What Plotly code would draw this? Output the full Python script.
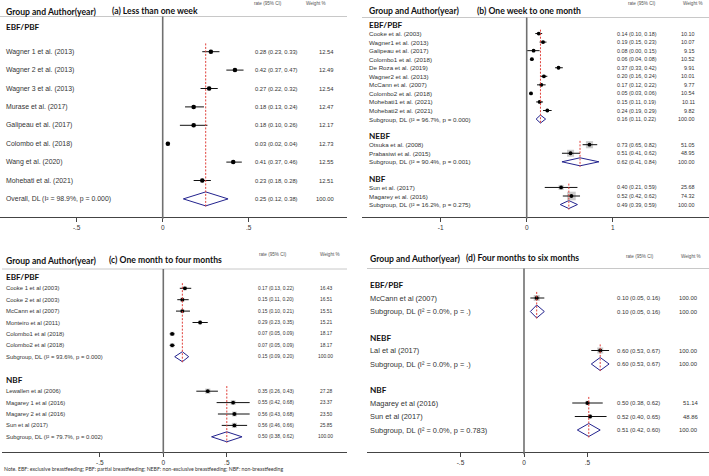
import plotly.graph_objects as go

W, H = 709, 476

# ---------------- DATA ----------------
# Panel (a)
a_title = "(a) Less than one week"
a_study = ["Wagner 1 et al. (2013)", "Wagner 2 et al. (2013)", "Wagner 3 et al. (2013)",
           "Murase et al. (2017)", "Galipeau et al. (2017)", "Colombo et al. (2018)",
           "Wang et al. (2020)", "Mohebati et al. (2021)"]
a_group = ["EBF/PBF"] * 8
a_est = [0.28, 0.42, 0.27, 0.18, 0.18, 0.03, 0.41, 0.23]
a_lo = [0.23, 0.37, 0.22, 0.13, 0.10, 0.02, 0.37, 0.18]
a_hi = [0.33, 0.47, 0.32, 0.24, 0.26, 0.04, 0.46, 0.28]
a_wt = [12.54, 12.49, 12.54, 12.47, 12.17, 12.73, 12.55, 12.51]
a_groups = ["EBF/PBF"]
a_pool_est = [0.25]
a_pool_lo = [0.12]
a_pool_hi = [0.38]
a_i2 = ["98.9"]
a_p = ["0.000"]
a_pool_name = "Overall"

# Panel (b)
b_title = "(b) One week to one month"
b_study = ["Cooke et al. (2003)", "Wagner1 et al. (2013)", "Galipeau et al. (2017)",
           "Colombo1 et al. (2018)", "De Roza et al. (2019)", "Wagner2 et al. (2013)",
           "McCann et al. (2007)", "Colombo2 et al. (2018)", "Mohebati1 et al. (2021)",
           "Mohebati2 et al. (2021)",
           "Otsuka et al. (2008)", "Prabasiwi et al. (2015)",
           "Sun et al. (2017)", "Magarey et al. (2016)"]
b_group = ["EBF/PBF"] * 10 + ["NEBF"] * 2 + ["NBF"] * 2
b_est = [0.14, 0.19, 0.08, 0.06, 0.37, 0.20, 0.17, 0.05, 0.15, 0.24, 0.73, 0.51, 0.40, 0.52]
b_lo = [0.10, 0.15, 0.00, 0.04, 0.33, 0.16, 0.12, 0.03, 0.11, 0.19, 0.65, 0.41, 0.21, 0.42]
b_hi = [0.18, 0.23, 0.15, 0.08, 0.42, 0.24, 0.22, 0.06, 0.19, 0.29, 0.82, 0.62, 0.59, 0.62]
b_wt = [10.10, 10.07, 9.15, 10.52, 9.91, 10.01, 9.77, 10.54, 10.11, 9.82, 51.05, 48.95, 25.68, 74.32]
b_groups = ["EBF/PBF", "NEBF", "NBF"]
b_pool_est = [0.16, 0.62, 0.49]
b_pool_lo = [0.11, 0.41, 0.39]
b_pool_hi = [0.22, 0.84, 0.59]
b_i2 = ["96.7", "90.4", "16.2"]
b_p = ["0.000", "0.001", "0.275"]
b_pool_name = "Subgroup"

# Panel (c)
c_title = "(c) One month to four months"
c_study = ["Cooke 1 et al (2003)", "Cooke 2 et al (2003)", "McCann et al (2007)",
           "Monteiro et al (2011)", "Colombo1 et al (2018)", "Colombo2 et al (2018)",
           "Lewallen et al (2006)", "Magarey 1 et al (2016)", "Magarey 2 et al (2016)",
           "Sun et al (2017)"]
c_group = ["EBF/PBF"] * 6 + ["NBF"] * 4
c_est = [0.17, 0.15, 0.15, 0.29, 0.07, 0.07, 0.35, 0.55, 0.56, 0.56]
c_lo = [0.13, 0.11, 0.10, 0.23, 0.05, 0.05, 0.26, 0.42, 0.43, 0.46]
c_hi = [0.22, 0.20, 0.21, 0.35, 0.09, 0.09, 0.43, 0.68, 0.68, 0.66]
c_wt = [16.43, 16.51, 15.51, 15.21, 18.17, 18.17, 27.28, 23.37, 23.50, 25.85]
c_groups = ["EBF/PBF", "NBF"]
c_pool_est = [0.15, 0.50]
c_pool_lo = [0.09, 0.38]
c_pool_hi = [0.20, 0.62]
c_i2 = ["93.6", "79.7"]
c_p = ["0.000", "0.002"]
c_pool_name = "Subgroup"

# Panel (d)
d_title = "(d) Four months to six months"
d_study = ["McCann et al (2007)", "Lal et al (2017)", "Magarey et al (2016)", "Sun et al (2017)"]
d_group = ["EBF/PBF", "NEBF", "NBF", "NBF"]
d_est = [0.10, 0.60, 0.50, 0.52]
d_lo = [0.05, 0.53, 0.38, 0.40]
d_hi = [0.16, 0.67, 0.62, 0.65]
d_wt = [100.00, 100.00, 51.14, 48.86]
d_groups = ["EBF/PBF", "NEBF", "NBF"]
d_pool_est = [0.10, 0.60, 0.51]
d_pool_lo = [0.05, 0.53, 0.42]
d_pool_hi = [0.16, 0.67, 0.60]
d_i2 = ["0.0", "0.0", "0.0"]
d_p = [".", ".", "0.783"]
d_pool_name = "Subgroup"

half_ticks = [-0.5, 0, 0.5]
half_ticklabels = ["-.5", "0", ".5"]
unit_ticks = [-1, 0, 1]
unit_ticklabels = ["-1", "0", "1"]

note_text = ("Note. EBF: exclusive breastfeeding; PBF: partial breastfeeding; "
             "NEBF: non-exclusive breastfeeding; NBF: non-breastfeeding")

# ---------------- STYLE / LAYOUT ----------------
SANS = "Liberation Sans, Arial, sans-serif"
BOLD = "Lato, Open Sans, sans-serif"
TXT = "#333333"
NAVY = "#23238e"
RED = "#e0403a"
GREY_BOX = "#b5b5b5"

panels = [
    dict(title=a_title, study=a_study, group=a_group, est=a_est, lo=a_lo, hi=a_hi, wt=a_wt,
         groups=a_groups, pest=a_pool_est, plo=a_pool_lo, phi=a_pool_hi, i2=a_i2, p=a_p,
         pname=a_pool_name, ticks=half_ticks, ticklabels=half_ticklabels,
         x0=0, x1=347, zero=162.7, scale=172, axis_y=217, sep_y=16.5,
         top_y=26.7, head_gap=25, step=18.4, group_gap=36.8, dh=7,
         label_x=4, rate_x=253, wt_x=336, head_y=11.5, title_x=110, colhead_y=3.5,
         ratehead_x=268, wthead_x=316, fs=6.9, rfs=5.8, box_k=1.1, dot=4.5),
    dict(title=b_title, study=b_study, group=b_group, est=b_est, lo=b_lo, hi=b_hi, wt=b_wt,
         groups=b_groups, pest=b_pool_est, plo=b_pool_lo, phi=b_pool_hi, i2=b_i2, p=b_p,
         pname=b_pool_name, ticks=unit_ticks, ticklabels=unit_ticklabels,
         x0=362, x1=709, zero=526.7, scale=86, axis_y=216.7, sep_y=17.5,
         top_y=25, head_gap=8.55, step=8.55, group_gap=17.1, dh=4,
         label_x=367, rate_x=615, wt_x=697, head_y=11, title_x=475, colhead_y=3.5,
         ratehead_x=642, wthead_x=693, fs=6.2, rfs=5.4, box_k=1.0, dot=3.8),
    dict(title=c_title, study=c_study, group=c_group, est=c_est, lo=c_lo, hi=c_hi, wt=c_wt,
         groups=c_groups, pest=c_pool_est, plo=c_pool_lo, phi=c_pool_hi, i2=c_i2, p=c_p,
         pname=c_pool_name, ticks=half_ticks, ticklabels=half_ticklabels,
         x0=2, x1=347, zero=163.3, scale=127, axis_y=451.7, sep_y=269,
         top_y=277.3, head_gap=11, step=11.4, group_gap=23.5, dh=5,
         label_x=4, rate_x=256, wt_x=335, head_y=260.5, title_x=107, colhead_y=254,
         ratehead_x=273, wthead_x=330, fs=5.9, rfs=4.9, box_k=1.0, dot=3.8),
    dict(title=d_title, study=d_study, group=d_group, est=d_est, lo=d_lo, hi=d_hi, wt=d_wt,
         groups=d_groups, pest=d_pool_est, plo=d_pool_lo, phi=d_pool_hi, i2=d_i2, p=d_p,
         pname=d_pool_name, ticks=half_ticks, ticklabels=half_ticklabels,
         x0=367, x1=709, zero=524, scale=127, axis_y=452.3, sep_y=268.5,
         top_y=285, head_gap=13, step=13.5, group_gap=26, dh=6.5,
         label_x=368, rate_x=615, wt_x=700, head_y=258.5, title_x=464, colhead_y=256,
         ratehead_x=640, wthead_x=691, fs=7.4, rfs=5.9, box_k=0.6, dot=4),
]

fig = go.Figure()
annotations = []
shapes = []
layout_axes = {}


def px(x):
    return x / W


def add_text(x, y, text, size, family=SANS, color=TXT, anchor="left"):
    annotations.append(dict(xref="paper", yref="y", x=px(x), y=y, text=text,
                            showarrow=False, xanchor=anchor, yanchor="middle",
                            font=dict(family=family, size=size, color=color)))


for k, P in enumerate(panels, start=1):
    xa = "x" if k == 1 else f"x{k}"
    xkey = "xaxis" if k == 1 else f"xaxis{k}"
    lo_r = (P["x0"] - P["zero"]) / P["scale"]
    hi_r = (P["x1"] - P["zero"]) / P["scale"]
    layout_axes[xkey] = dict(
        domain=[px(P["x0"]), px(P["x1"])], range=[lo_r, hi_r], anchor="free",
        position=1 - P["axis_y"] / H, showline=True, linecolor="#444", linewidth=1,
        showgrid=False, zeroline=False, tickmode="array", tickvals=P["ticks"],
        ticktext=P["ticklabels"], ticks="outside", ticklen=4, tickcolor="#444",
        tickfont=dict(family=SANS, size=6.5, color=TXT), fixedrange=True,
    )

    # compute row positions from the structure
    study_y = [None] * len(P["study"])
    head_pos, sub_pos, first_pos = [], [], []
    y = P["top_y"]
    for gi, g in enumerate(P["groups"]):
        head_pos.append(y)
        y += P["head_gap"]
        first_pos.append(y)
        for si, sg in enumerate(P["group"]):
            if sg == g:
                study_y[si] = y
                y += P["step"]
        sub_pos.append(y)
        y += P["group_gap"]

    # header texts
    add_text(P["label_x"], P["head_y"], "<b>Group and Author(year)</b>", 8.6, BOLD, "#111")
    add_text(P["title_x"], P["head_y"] - 0.5, "<b>" + P["title"] + "</b>", 8.6, BOLD, "#111")
    add_text(P["ratehead_x"], P["colhead_y"], "rate (95% CI)", 4.6, SANS, "#555", "center")
    add_text(P["wthead_x"], P["colhead_y"], "Weight %", 4.6, SANS, "#555", "center")

    # separator line and zero line
    shapes.append(dict(type="line", xref="paper", yref="y", x0=px(P["x0"]), x1=px(P["x1"]),
                       y0=P["sep_y"], y1=P["sep_y"], line=dict(color="#c8c8c8", width=1)))
    shapes.append(dict(type="line", xref=xa, yref="y", x0=0, x1=0,
                       y0=P["sep_y"], y1=P["axis_y"] + 2, line=dict(color="#707070", width=1.6)))

    # groups: header, dashed pooled line, diamond, subgroup label
    for gi, g in enumerate(P["groups"]):
        add_text(P["label_x"], head_pos[gi], "<b>" + g + "</b>", 8.2, BOLD, "#111")
        shapes.append(dict(type="line", xref=xa, yref="y", x0=P["pest"][gi], x1=P["pest"][gi],
                           y0=first_pos[gi] - 0.45 * P["step"], y1=sub_pos[gi] + P["dh"] + 1,
                           line=dict(color=RED, width=1, dash="2px,1.5px")))
        sy = sub_pos[gi]
        fig.add_trace(go.Scatter(
            x=[P["plo"][gi], P["pest"][gi], P["phi"][gi], P["pest"][gi], P["plo"][gi]],
            y=[sy, sy - P["dh"], sy, sy + P["dh"], sy],
            mode="lines", fill="toself", fillcolor="white",
            line=dict(color=NAVY, width=1), xaxis=xa, yaxis="y",
            hoverinfo="skip", showlegend=False))
        add_text(P["label_x"], sy,
                 f"{P['pname']}, DL (I\u00b2 = {P['i2'][gi]}%, p = {P['p'][gi]})", P["fs"])
        add_text(P["rate_x"], sy,
                 f"{P['pest'][gi]:.2f} ({P['plo'][gi]:.2f}, {P['phi'][gi]:.2f})", P["rfs"])
        add_text(P["wt_x"], sy, "100.00", P["rfs"], anchor="right")

    # studies: weight boxes, CI lines, points
    fig.add_trace(go.Scatter(
        x=P["est"], y=study_y, mode="markers",
        marker=dict(symbol="square", color=GREY_BOX,
                    size=[P["box_k"] * w ** 0.5 for w in P["wt"]], line=dict(width=0)),
        xaxis=xa, yaxis="y", hoverinfo="skip", showlegend=False))
    ci_x, ci_y = [], []
    for i in range(len(P["study"])):
        ci_x += [P["lo"][i], P["hi"][i], None]
        ci_y += [study_y[i], study_y[i], None]
    fig.add_trace(go.Scatter(x=ci_x, y=ci_y, mode="lines", line=dict(color="#111", width=1),
                             xaxis=xa, yaxis="y", hoverinfo="skip", showlegend=False))
    fig.add_trace(go.Scatter(x=P["est"], y=study_y, mode="markers",
                             marker=dict(symbol="circle", color="#000", size=P["dot"]),
                             xaxis=xa, yaxis="y", hoverinfo="skip", showlegend=False))
    for i, s in enumerate(P["study"]):
        add_text(P["label_x"], study_y[i], s, P["fs"])
        add_text(P["rate_x"], study_y[i],
                 f"{P['est'][i]:.2f} ({P['lo'][i]:.2f}, {P['hi'][i]:.2f})", P["rfs"])
        add_text(P["wt_x"], study_y[i], f"{P['wt'][i]:.2f}", P["rfs"], anchor="right")

add_text(2, 469, note_text, 5.2, BOLD, "#333")

fig.update_layout(
    width=W, height=H, autosize=False,
    margin=dict(l=0, r=0, t=0, b=0, pad=0),
    paper_bgcolor="white", plot_bgcolor="rgba(0,0,0,0)",
    yaxis=dict(domain=[0, 1], range=[H, 0], visible=False, fixedrange=True),
    annotations=annotations, shapes=shapes, showlegend=False,
    **layout_axes,
)

fig.write_html("out.html", config={"displayModeBar": False},
               post_script="document.body.style.margin='0';document.body.style.overflow='hidden';")
